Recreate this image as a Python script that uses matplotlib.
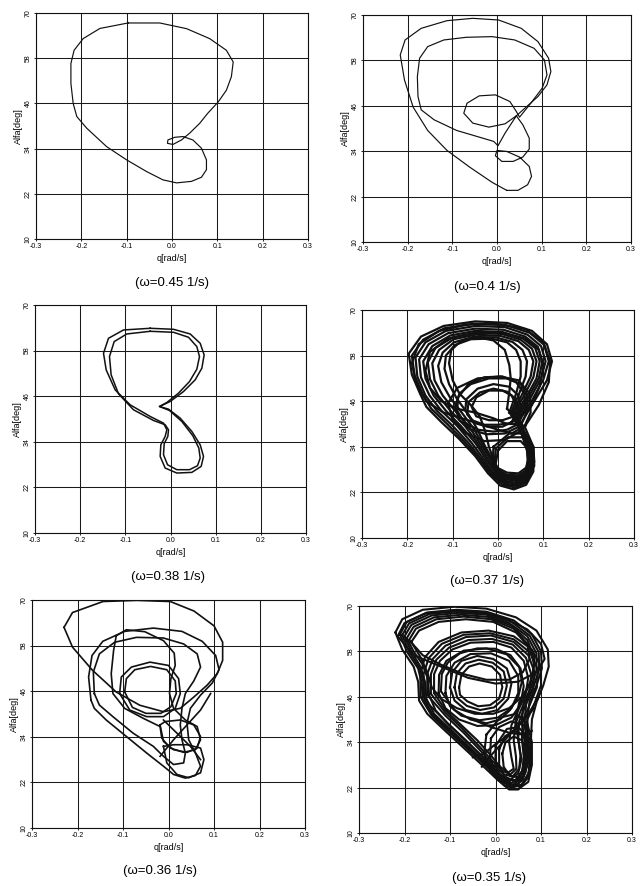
import matplotlib
matplotlib.use("Agg")
import matplotlib.pyplot as plt

plt.rcParams["font.family"] = ["Liberation Sans", "DejaVu Sans"]

Q_TICKS = [-0.3, -0.2, -0.1, 0.0, 0.1, 0.2, 0.3]
ALFA_TICKS = [10, 22, 34, 46, 58, 70]

# --- omega = 0.45 1/s : single closed orbit (q, alfa)
orbit_045 = [(-0.097, 67.35), (-0.027, 67.35), (0.032, 65.85), (0.083, 63.2), (0.12, 60.1),
             (0.135, 57.0), (0.131, 53.1), (0.12, 49.5), (0.102, 46.4), (0.079, 43.4),
             (0.061, 40.7), (0.039, 38.1), (0.021, 36.3), (0.002, 35.1), (-0.010, 35.4),
             (-0.009, 36.3), (0.006, 37.0), (0.024, 37.2), (0.046, 36.3), (0.065, 34.1),
             (0.076, 31.0), (0.076, 28.4), (0.065, 26.4), (0.043, 25.3), (0.010, 24.9),
             (-0.020, 25.7), (-0.056, 27.9), (-0.100, 31.0), (-0.144, 34.5), (-0.188, 39.4),
             (-0.210, 42.5), (-0.218, 46.0), (-0.223, 51.3), (-0.223, 56.6), (-0.216, 60.1),
             (-0.196, 63.2), (-0.159, 65.9), (-0.097, 67.35)]

# --- omega = 0.4 1/s : period-2 orbit
orbit_040_a = [(0.0217, 23.65), (-0.0108, 25.76), (-0.0614, 29.81), (-0.1119, 34.2), (-0.1552, 39.48),
               (-0.1877, 45.64), (-0.2072, 52.85), (-0.2166, 59.45), (-0.2058, 63.4), (-0.1697, 66.48),
               (-0.1119, 68.5), (-0.0542, 69.12), (0.0036, 68.68), (0.0542, 66.48), (0.0917, 62.96),
               (0.1155, 58.57), (0.1206, 55.05), (0.1119, 51.53), (0.0917, 48.45), (0.065, 45.64),
               (0.0433, 43.35), (0.0578, 40.98), (0.0722, 37.46), (0.0722, 34.56), (0.0578, 32.45),
               (0.0361, 31.3), (0.0108, 31.3), (-0.0036, 32.8), (0.0, 34.2), (0.0217, 33.94),
               (0.0505, 32.45), (0.0722, 29.98), (0.0773, 27.34), (0.0686, 25.14), (0.0469, 23.65),
               (0.0217, 23.65)]
orbit_040_b = [(0.0433, 43.35), (0.0181, 41.24), (-0.0181, 40.36), (-0.0542, 41.42), (-0.0744, 44.05),
               (-0.0671, 46.69), (-0.0397, 48.63), (-0.0036, 48.89), (0.0289, 47.13), (0.0433, 44.49),
               (0.0505, 43.0), (0.0758, 46.69), (0.1011, 50.65), (0.1119, 54.17), (0.1061, 58.13),
               (0.083, 61.2), (0.0397, 63.4), (-0.0108, 64.28), (-0.0686, 64.11), (-0.1191, 63.4),
               (-0.1552, 61.64), (-0.1733, 58.57), (-0.1783, 53.73), (-0.1769, 48.45), (-0.1697, 44.93),
               (-0.1408, 42.3), (-0.0903, 39.48), (-0.0397, 37.72), (-0.0072, 36.58), (0.0022, 35.44),
               (0.0181, 38.78), (0.0433, 43.35)]

# --- omega = 0.38 1/s : two nearly coincident loops
orbit_038_a = [(-0.045, 63.87), (0.0066, 63.61), (0.0435, 62.38), (0.0657, 59.93), (0.0745, 56.87),
               (0.0694, 53.36), (0.0546, 50.3), (0.0288, 47.23), (-0.0007, 44.61), (-0.0244, 43.29),
               (-0.0044, 42.59), (0.0214, 40.23), (0.0472, 36.73), (0.0657, 33.22), (0.0731, 30.16),
               (0.0679, 27.53), (0.0472, 25.95), (0.014, 25.78), (-0.0118, 27.09), (-0.0229, 30.16),
               (-0.0214, 33.22), (-0.0118, 35.41), (-0.0081, 37.16), (-0.0155, 38.91), (-0.045, 40.67),
               (-0.0893, 43.73), (-0.1225, 47.67), (-0.1424, 52.92), (-0.1483, 57.3), (-0.1373, 61.24),
               (-0.1041, 63.43), (-0.045, 63.87)]
orbit_038_b = [(-0.045, 63.08), (0.0066, 62.82), (0.0399, 61.51), (0.0583, 59.05), (0.0642, 56.43),
               (0.0583, 53.1), (0.0421, 49.86), (0.0177, 46.8), (-0.0081, 44.34), (-0.0244, 43.29),
               (-0.0022, 42.24), (0.0251, 39.35), (0.0494, 35.59), (0.0627, 32.35), (0.0657, 29.72),
               (0.0598, 27.71), (0.0421, 26.66), (0.014, 26.66), (-0.0066, 27.96), (-0.0155, 30.6),
               (-0.014, 33.49), (-0.0059, 35.41), (-0.0044, 37.16), (-0.0118, 38.48), (-0.0376, 39.61),
               (-0.0819, 42.42), (-0.1151, 46.62), (-0.1314, 51.61), (-0.1351, 56.43), (-0.1247, 60.37),
               (-0.0967, 62.38), (-0.045, 63.08)]

# --- omega = 0.37 1/s : chaotic, loops
loops_037 = [
    [(0.045, 41), (0.08, 46), (0.108, 51.5), (0.119, 56.5), (0.108, 61), (0.075, 64.5), (0.02, 66.6),
     (-0.05, 67), (-0.12, 65.8), (-0.17, 63), (-0.197, 58.5), (-0.19, 53), (-0.172, 48), (-0.158, 44.5),
     (-0.125, 40.5), (-0.085, 36), (-0.05, 31.5), (-0.022, 27), (0.005, 23.8), (0.035, 22.8),
     (0.062, 24), (0.078, 27.5), (0.078, 32), (0.065, 36.5), (0.045, 41)],
    [(0.042, 41.2), (0.075, 46.2), (0.1, 51.7), (0.112, 56.5), (0.102, 60.8), (0.07, 64), (0.018, 66),
     (-0.05, 66.4), (-0.118, 65.2), (-0.165, 62.2), (-0.19, 58), (-0.184, 52.8), (-0.166, 47.8),
     (-0.147, 44), (-0.112, 40), (-0.075, 35.5), (-0.042, 31), (-0.016, 26.8), (0.01, 24), (0.038, 23.3),
     (0.062, 24.6), (0.075, 28), (0.074, 32.3), (0.062, 36.8), (0.042, 41.2)],
    [(0.04, 41.5), (0.07, 46.5), (0.095, 52), (0.105, 56.5), (0.095, 60.5), (0.065, 63.5), (0.015, 65.5),
     (-0.05, 65.8), (-0.115, 64.5), (-0.16, 61.5), (-0.182, 57.5), (-0.178, 52.5), (-0.16, 47.5),
     (-0.135, 43.5), (-0.1, 39.5), (-0.065, 35), (-0.035, 30.5), (-0.01, 26.5), (0.015, 24.2),
     (0.04, 23.8), (0.062, 25.2), (0.072, 28.5), (0.07, 32.5), (0.058, 37), (0.04, 41.5)],
    [(0.038, 41.8), (0.066, 46.8), (0.09, 52), (0.098, 56.5), (0.088, 60.3), (0.06, 63), (0.012, 64.8),
     (-0.05, 65.1), (-0.11, 63.9), (-0.153, 61), (-0.174, 57), (-0.17, 52.3), (-0.151, 47.5),
     (-0.125, 43.5), (-0.09, 39.5), (-0.058, 35), (-0.03, 30.5), (-0.008, 26.8), (0.016, 24.8),
     (0.041, 24.5), (0.061, 26), (0.069, 29), (0.067, 32.8), (0.055, 37.2), (0.038, 41.8)],
    [(0.035, 42), (0.062, 47), (0.085, 52), (0.092, 56.5), (0.082, 60), (0.055, 62.5), (0.01, 64.2),
     (-0.05, 64.5), (-0.105, 63.3), (-0.145, 60.5), (-0.165, 56.5), (-0.16, 52), (-0.142, 47.5),
     (-0.115, 43.5), (-0.082, 39.5), (-0.05, 35), (-0.025, 30.5), (-0.005, 27.2), (0.018, 25.5),
     (0.042, 25.2), (0.06, 26.8), (0.066, 29.5), (0.064, 33), (0.052, 37.5), (0.035, 42)],
    [(0.032, 42.3), (0.057, 47.3), (0.078, 52.3), (0.085, 56.5), (0.075, 59.8), (0.05, 62.2),
     (0.008, 63.7), (-0.05, 64), (-0.1, 62.8), (-0.138, 60), (-0.155, 56.2), (-0.15, 51.8),
     (-0.132, 47.5), (-0.105, 43.5), (-0.073, 39.5), (-0.045, 35), (-0.022, 30.8), (-0.004, 27.8),
     (0.019, 26.3), (0.043, 26.1), (0.061, 27.6), (0.067, 30.5), (0.063, 34), (0.05, 38), (0.032, 42.3)],
    [(0.03, 42.5), (0.052, 47.5), (0.072, 52.5), (0.078, 56.5), (0.068, 59.5), (0.045, 61.8),
     (0.005, 63.2), (-0.05, 63.5), (-0.098, 62.3), (-0.13, 59.5), (-0.145, 56), (-0.14, 51.5),
     (-0.122, 47.5), (-0.095, 43.5), (-0.065, 39.5), (-0.04, 35), (-0.018, 31), (-0.002, 28.5),
     (0.02, 27.2), (0.045, 27), (0.062, 28.5), (0.068, 31.5), (0.062, 35), (0.048, 38.5), (0.03, 42.5)],
    [(0.028, 42.8), (0.046, 47.8), (0.061, 52.5), (0.064, 56.5), (0.054, 59.5), (0.032, 61.6),
     (-0.005, 62.8), (-0.055, 62.9), (-0.097, 61.5), (-0.122, 58.8), (-0.132, 55.3), (-0.125, 51),
     (-0.106, 47), (-0.08, 43), (-0.055, 39), (-0.035, 35), (-0.015, 30.8), (-0.001, 28), (0.02, 26.6),
     (0.046, 26.5), (0.065, 28), (0.072, 31), (0.067, 34.5), (0.052, 38.5), (0.028, 42.8)],
    [(0.025, 43), (0.04, 48), (0.05, 52.5), (0.05, 56.5), (0.04, 59.5), (0.02, 61.5), (-0.015, 62.5),
     (-0.06, 62.3), (-0.095, 60.8), (-0.115, 58), (-0.118, 54.5), (-0.108, 50.5), (-0.09, 46.5),
     (-0.065, 42.5), (-0.045, 38.5), (-0.03, 34.5), (-0.012, 30.5), (0.0, 27.5), (0.02, 26),
     (0.048, 26), (0.068, 27.5), (0.075, 30.5), (0.072, 34), (0.055, 38.5), (0.025, 43)],
    [(0.02, 44), (0.025, 48.5), (0.028, 52), (0.025, 55.5), (0.015, 59.5), (-0.01, 62), (-0.045, 62.8),
     (-0.08, 62), (-0.103, 59.5), (-0.108, 56), (-0.1, 51.5), (-0.085, 48), (-0.06, 45), (-0.04, 42),
     (-0.028, 38), (-0.02, 34), (-0.008, 30), (0.005, 26.8), (0.025, 25.5), (0.05, 25.5), (0.07, 27),
     (0.08, 30), (0.078, 34), (0.06, 39), (0.02, 44)],
    [(0.06, 39.5), (0.09, 45), (0.112, 51), (0.115, 56.5), (0.1, 61.5), (0.06, 65), (0.0, 66.3),
     (-0.07, 66.2), (-0.13, 64.5), (-0.175, 61), (-0.19, 56), (-0.18, 50.5), (-0.158, 46), (-0.12, 43),
     (-0.08, 41.5), (-0.04, 40), (0.0, 38.5), (0.03, 37.5), (0.06, 39.5)],
    [(0.05, 40), (0.075, 45), (0.092, 50), (0.1, 55), (0.09, 59.5), (0.06, 62.5), (0.01, 64), (-0.05, 64),
     (-0.11, 62.5), (-0.15, 59), (-0.16, 54), (-0.15, 49.5), (-0.125, 46), (-0.09, 44), (-0.05, 43),
     (-0.01, 41.5), (0.02, 40), (0.05, 40)],
    [(0.045, 40), (0.06, 44), (0.058, 48), (0.04, 51), (0.01, 52.5), (-0.03, 52.3), (-0.065, 50.5),
     (-0.088, 47), (-0.09, 43.5), (-0.075, 40.5), (-0.045, 38.5), (-0.01, 38), (0.02, 38.5), (0.045, 40)],
    [(0.05, 39.5), (0.065, 43.5), (0.064, 47.5), (0.05, 50.5), (0.02, 52), (-0.02, 52), (-0.06, 50.5),
     (-0.085, 48), (-0.095, 44.5), (-0.085, 41), (-0.06, 38.5), (-0.025, 37.3), (0.015, 37.5), (0.05, 39.5)],
    [(0.04, 41), (0.05, 44.5), (0.045, 47.5), (0.025, 49.8), (-0.01, 50.5), (-0.045, 49.3),
     (-0.07, 46.5), (-0.072, 43.5), (-0.058, 41), (-0.03, 39.8), (0.0, 39.8), (0.025, 40.2), (0.04, 41)],
    [(0.03, 40.5), (0.045, 43.5), (0.04, 46.5), (0.02, 48.5), (-0.01, 49.3), (-0.04, 48.3),
     (-0.065, 45.8), (-0.068, 42.5), (-0.05, 40.2), (-0.02, 39.2), (0.01, 39.3), (0.03, 40.5)],
    [(0.035, 42), (0.04, 45), (0.03, 47.5), (0.01, 48.8), (-0.02, 48.8), (-0.048, 47), (-0.058, 44.5),
     (-0.048, 42), (-0.02, 41), (0.01, 41), (0.035, 42)],
    [(0.055, 38.5), (0.072, 43), (0.07, 48), (0.045, 51.5), (0.005, 52.5), (-0.045, 52), (-0.09, 49.5),
     (-0.11, 45.5), (-0.1, 41), (-0.07, 37.5), (-0.03, 35.5), (0.015, 35.8), (0.055, 38.5)],
    [(0.0, 33), (-0.005, 29.5), (0.005, 26.5), (0.03, 25), (0.058, 26), (0.072, 29), (0.07, 33),
     (0.05, 35.5), (0.02, 35.5), (0.0, 33)],
    [(-0.005, 33.5), (-0.008, 29), (0.003, 26), (0.03, 24.4), (0.06, 25.5), (0.076, 29), (0.074, 33.5),
     (0.055, 36.5), (0.022, 36.5), (-0.005, 33.5)],
    [(-0.01, 34), (-0.012, 29), (0.0, 25.5), (0.03, 23.8), (0.062, 25), (0.08, 29), (0.078, 34),
     (0.058, 37.5), (0.025, 37.5), (-0.01, 34)],
]

# --- omega = 0.36 1/s : a handful of distinct loops
loops_036 = [
    [(-0.2296, 62.8), (-0.211, 66.7), (-0.144, 69.6), (-0.070, 69.9), (0.004, 69.6), (0.056, 67.1),
     (0.1, 63.2), (0.119, 58.9), (0.119, 54.1), (0.107, 50.6), (0.085, 47.6), (0.056, 44.5),
     (0.026, 41.5), (-0.011, 40.6), (-0.063, 42.3), (-0.115, 45.8), (-0.167, 51.5), (-0.211, 57.6),
     (-0.2296, 62.8)],
    [(-0.1704, 43.65), (-0.1756, 49.74), (-0.1681, 55.39), (-0.1444, 59.13), (-0.0963, 61.74),
     (-0.0333, 62.61), (0.0296, 61.74), (0.0741, 59.13), (0.1037, 55.39), (0.1111, 51.65),
     (0.0963, 48.17), (0.0704, 44.96), (0.0481, 41.48), (0.0407, 37.57), (0.0444, 33.22),
     (0.0593, 29.74), (0.0704, 26.26), (0.0593, 23.83), (0.037, 23.13), (0.0111, 24.09),
     (-0.0111, 26.26), (-0.0481, 29.74), (-0.0926, 34.09), (-0.137, 38.43), (-0.163, 41.48),
     (-0.1704, 43.65)],
    [(-0.163, 45.39), (-0.1652, 51.04), (-0.1519, 55.83), (-0.1185, 58.87), (-0.0704, 60.17),
     (-0.0111, 60.0), (0.0333, 58.43), (0.063, 55.83), (0.0704, 52.35), (0.0556, 48.7),
     (0.037, 45.39), (0.0296, 41.48), (0.0259, 37.13), (0.0296, 33.22), (0.037, 29.74),
     (0.0333, 27.13), (0.0111, 26.7), (-0.0111, 28.87), (-0.0333, 31.48), (-0.0778, 34.96),
     (-0.1222, 39.3), (-0.1519, 42.35), (-0.163, 45.39)],
    [(-0.1148, 60.61), (-0.0926, 62.17), (-0.0519, 61.65), (-0.0111, 59.3), (0.0126, 56.0),
     (0.0148, 52.78), (0.0052, 49.3), (0.0022, 45.39), (0.0111, 41.48), (0.037, 38.43),
     (0.063, 36.7), (0.0704, 33.22), (0.0593, 30.61), (0.0333, 29.91), (0.0037, 31.04),
     (-0.0148, 33.65), (-0.0185, 36.7), (-0.0556, 38.87), (-0.0963, 41.48), (-0.1222, 45.39),
     (-0.1259, 50.61), (-0.1207, 56.7), (-0.1148, 60.61)],
    [(-0.1074, 45.39), (-0.1037, 49.74), (-0.0815, 52.35), (-0.0407, 53.65), (0.0, 52.78),
     (0.0222, 49.3), (0.0259, 45.39), (0.0148, 41.48), (-0.0111, 39.3), (-0.0481, 39.3),
     (-0.0852, 41.04), (-0.1074, 45.39)],
    [(-0.0963, 45.83), (-0.0926, 49.3), (-0.0741, 51.65), (-0.0393, 52.52), (-0.0037, 51.65),
     (0.0148, 48.7), (0.017, 45.39), (0.0052, 41.91), (-0.017, 40.17), (-0.0496, 40.17),
     (-0.0793, 41.74), (-0.0963, 45.83)],
    [(-0.0185, 37.13), (-0.0074, 38.0), (0.0259, 38.43), (0.0556, 37.13), (0.0704, 34.09),
     (0.063, 31.04), (0.0407, 29.91), (0.0111, 30.61), (-0.0111, 32.78), (-0.0185, 37.13)],
    [(-0.0111, 31.48), (-0.0037, 27.13), (0.0185, 24.09), (0.0444, 23.22), (0.0704, 24.52),
     (0.0778, 28.0), (0.0704, 31.04), (0.0407, 31.91), (0.0111, 31.91), (-0.0111, 31.48)],
    [(-0.0185, 28.87), (0.0111, 33.22), (0.0407, 37.13), (0.0704, 41.04), (0.0926, 45.39)],
    [(-0.0111, 38.43), (0.0185, 34.96), (0.0481, 31.48), (0.0704, 28.0)],
]

# --- omega = 0.35 1/s : chaotic, dense
loops_035 = [
    [(-0.22, 63), (-0.205, 66.5), (-0.16, 69), (-0.09, 69.8), (-0.02, 69.3), (0.045, 67), (0.09, 63.5),
     (0.115, 58.5), (0.117, 54), (0.105, 49), (0.09, 44.5), (0.08, 40), (0.078, 35), (0.078, 29),
     (0.07, 24.5), (0.05, 21.5), (0.03, 21.5), (0.005, 24), (-0.03, 28), (-0.07, 32.5), (-0.115, 37.5),
     (-0.15, 41.5), (-0.168, 45), (-0.17, 50), (-0.18, 54), (-0.205, 58.5), (-0.22, 63)],
    [(-0.21, 62.5), (-0.195, 65.8), (-0.15, 68.3), (-0.085, 69), (-0.02, 68.5), (0.04, 66.2),
     (0.08, 62.5), (0.1, 58), (0.102, 53.5), (0.09, 49), (0.075, 45), (0.07, 40), (0.072, 34),
     (0.07, 28.5), (0.06, 24), (0.04, 22.2), (0.015, 23.5), (-0.015, 27), (-0.055, 31.5), (-0.1, 36.5),
     (-0.14, 41), (-0.16, 45), (-0.162, 49.5), (-0.17, 53.5), (-0.195, 58), (-0.21, 62.5)],
    [(-0.205, 62.3), (-0.19, 65.4), (-0.145, 67.9), (-0.082, 68.6), (-0.02, 68.1), (0.035, 65.8),
     (0.075, 62.2), (0.095, 57.8), (0.096, 53.2), (0.084, 48.8), (0.068, 44.8), (0.064, 39.8),
     (0.068, 34), (0.067, 28.8), (0.058, 24.5), (0.038, 22.7), (0.013, 24.2), (-0.018, 27.8),
     (-0.058, 32.3), (-0.1, 37), (-0.138, 41.2), (-0.156, 45.2), (-0.158, 49.8), (-0.168, 53.8),
     (-0.19, 58), (-0.205, 62.3)],
    [(-0.2, 62), (-0.185, 65), (-0.14, 67.5), (-0.08, 68.2), (-0.02, 67.7), (0.03, 65.5), (0.07, 62),
     (0.09, 57.5), (0.09, 53), (0.078, 48.5), (0.062, 44.5), (0.058, 39.5), (0.064, 34), (0.064, 29),
     (0.055, 25), (0.036, 23.2), (0.012, 24.8), (-0.02, 28.5), (-0.06, 33), (-0.1, 37.5), (-0.135, 41.5),
     (-0.152, 45.5), (-0.155, 50), (-0.165, 54), (-0.185, 58), (-0.2, 62)],
    [(-0.195, 61.5), (-0.18, 64.5), (-0.135, 67), (-0.075, 67.7), (-0.015, 67.1), (0.035, 64.8),
     (0.07, 61), (0.085, 56.5), (0.083, 52), (0.07, 48), (0.052, 44.5), (0.045, 40), (0.05, 34.5),
     (0.057, 29.5), (0.05, 25.8), (0.032, 24), (0.01, 25.5), (-0.022, 29.5), (-0.062, 34), (-0.102, 38.5),
     (-0.132, 42.5), (-0.146, 46.5), (-0.148, 50.5), (-0.16, 54.5), (-0.18, 58), (-0.195, 61.5)],
    [(-0.19, 61), (-0.175, 64), (-0.13, 66.5), (-0.07, 67.2), (-0.01, 66.5), (0.04, 64), (0.07, 60),
     (0.075, 56), (0.06, 52.5), (0.03, 50.5), (-0.02, 50.5), (-0.07, 52), (-0.12, 54.5), (-0.16, 57),
     (-0.19, 61)],
    [(-0.185, 60.5), (-0.168, 63.5), (-0.125, 65.8), (-0.065, 66.5), (-0.005, 65.8), (0.045, 63),
     (0.075, 59), (0.085, 54.5), (0.078, 50), (0.058, 46), (0.03, 43), (-0.005, 41.5), (-0.045, 41.5),
     (-0.085, 43), (-0.12, 45.5), (-0.14, 48.5), (-0.15, 52.5), (-0.165, 56.5), (-0.185, 60.5)],
    [(-0.215, 62), (-0.2, 65.5), (-0.155, 68), (-0.1, 68.8), (-0.04, 68.5), (0.02, 66.8), (0.07, 63.8),
     (0.1, 60), (0.108, 56), (0.09, 52.5), (0.05, 50), (0.0, 49.5), (-0.06, 51), (-0.12, 54),
     (-0.18, 57), (-0.215, 62)],
    [(-0.165, 46), (-0.165, 52), (-0.155, 56.5), (-0.125, 60.5), (-0.075, 63), (-0.015, 63.5),
     (0.04, 62), (0.08, 58.5), (0.1, 54), (0.1, 49), (0.085, 44), (0.07, 40), (0.066, 35), (0.07, 30),
     (0.066, 26), (0.05, 23), (0.03, 22.5), (0.01, 24.5), (-0.02, 28), (-0.06, 32.5), (-0.1, 37),
     (-0.14, 41.5), (-0.165, 46)],
    [(-0.158, 46.2), (-0.158, 52), (-0.147, 56.2), (-0.118, 60), (-0.07, 62.4), (-0.012, 62.8),
     (0.04, 61.2), (0.076, 57.7), (0.093, 53.2), (0.091, 48.5), (0.075, 43.8), (0.06, 39.8),
     (0.058, 35), (0.062, 30.2), (0.059, 26.5), (0.044, 24), (0.024, 24), (0.003, 26.2), (-0.028, 30),
     (-0.065, 34.5), (-0.105, 39), (-0.145, 43.8), (-0.158, 46.2)],
    [(-0.15, 46.5), (-0.15, 52), (-0.138, 56), (-0.11, 59.5), (-0.065, 61.8), (-0.01, 62.2),
     (0.04, 60.5), (0.072, 57), (0.086, 52.5), (0.082, 48), (0.065, 43.5), (0.052, 39.5), (0.05, 35),
     (0.055, 30.5), (0.052, 27), (0.038, 25), (0.018, 25.5), (-0.005, 28), (-0.035, 32), (-0.07, 36.5),
     (-0.11, 41), (-0.15, 46.5)],
    [(-0.142, 46.8), (-0.142, 52), (-0.13, 55.8), (-0.102, 59), (-0.06, 61), (-0.008, 61.3),
     (0.038, 59.8), (0.067, 56.3), (0.079, 51.8), (0.074, 47.2), (0.058, 43), (0.044, 39), (0.04, 34.5),
     (0.045, 30.2), (0.046, 27), (0.033, 25.5), (0.014, 26.5), (-0.008, 29.2), (-0.038, 33.2),
     (-0.072, 37.5), (-0.11, 41.8), (-0.142, 46.8)],
    [(-0.135, 47), (-0.135, 52), (-0.122, 55.5), (-0.095, 58.5), (-0.055, 60.3), (-0.005, 60.5),
     (0.035, 59), (0.062, 55.5), (0.072, 51), (0.066, 46.5), (0.05, 42.5), (0.035, 38.5), (0.03, 34),
     (0.035, 30), (0.04, 27), (0.028, 26), (0.01, 27.5), (-0.01, 30.5), (-0.04, 34.5), (-0.075, 38.5),
     (-0.11, 42.5), (-0.135, 47)],
    [(-0.125, 47), (-0.124, 51.8), (-0.108, 55.5), (-0.07, 58.2), (-0.02, 58.8), (0.025, 57.2),
     (0.055, 53.5), (0.062, 48.8), (0.055, 44), (0.035, 40.5), (0.0, 38.5), (-0.04, 38.3), (-0.08, 40),
     (-0.11, 43), (-0.125, 47)],
    [(-0.12, 47.5), (-0.118, 52), (-0.105, 55), (-0.078, 57.5), (-0.04, 58.8), (0.0, 58.7),
     (0.033, 57), (0.052, 54), (0.058, 50), (0.05, 46), (0.032, 42.5), (0.01, 40), (-0.02, 39),
     (-0.055, 40), (-0.09, 42.5), (-0.12, 47.5)],
    [(-0.11, 47), (-0.108, 51.5), (-0.09, 55), (-0.055, 57.3), (-0.01, 57.5), (0.03, 55.5),
     (0.05, 51.5), (0.05, 47), (0.035, 43), (0.005, 40.5), (-0.035, 39.8), (-0.075, 41), (-0.1, 43.5),
     (-0.11, 47)],
    [(-0.1, 48.5), (-0.095, 52.5), (-0.075, 55.5), (-0.04, 56.8), (-0.005, 56), (0.025, 53.5),
     (0.035, 49.5), (0.028, 45.5), (0.005, 42.5), (-0.03, 41.5), (-0.065, 42.5), (-0.09, 45), (-0.1, 48.5)],
    [(-0.09, 48.5), (-0.085, 52.2), (-0.066, 54.8), (-0.037, 55.8), (-0.006, 55), (0.018, 52.7),
     (0.025, 49), (0.018, 45.5), (-0.003, 43.2), (-0.034, 42.5), (-0.063, 43.6), (-0.084, 45.7),
     (-0.09, 48.5)],
    [(-0.08, 48.5), (-0.075, 51.8), (-0.058, 54), (-0.035, 54.8), (-0.008, 54), (0.01, 51.8),
     (0.015, 48.5), (0.008, 45.5), (-0.012, 43.8), (-0.038, 43.5), (-0.062, 44.8), (-0.078, 46.5),
     (-0.08, 48.5)],
    [(0.0, 33), (0.0, 28), (0.012, 24.5), (0.035, 22.2), (0.058, 22.8), (0.073, 26), (0.076, 31),
     (0.07, 35.5), (0.05, 38), (0.025, 37.5), (0.0, 33)],
    [(0.008, 32), (0.008, 28), (0.02, 25), (0.042, 23.6), (0.062, 25), (0.072, 28.5), (0.072, 32.5),
     (0.062, 36), (0.04, 37), (0.02, 35.5), (0.008, 32)],
    [(0.015, 31), (0.018, 27.5), (0.032, 25), (0.05, 24.8), (0.063, 27), (0.066, 31), (0.058, 34.5),
     (0.04, 35.5), (0.022, 34), (0.015, 31)],
    [(-0.01, 35), (-0.012, 30), (0.0, 25.5), (0.025, 22.8), (0.054, 22.3), (0.072, 24.8), (0.078, 29.5),
     (0.076, 34.5), (0.062, 38.5), (0.035, 39.5), (0.008, 38), (-0.01, 35)],
    [(-0.02, 36), (-0.025, 31), (-0.01, 26), (0.02, 22.5), (0.05, 21.6), (0.072, 23.5), (0.08, 28),
     (0.08, 34), (0.07, 39), (0.045, 41.5), (0.01, 40.5), (-0.02, 36)],
    [(0.095, 46), (0.075, 42), (0.05, 38.5), (0.02, 34.5), (-0.01, 30.5), (-0.03, 27.5)],
    [(0.085, 43), (0.06, 39.5), (0.03, 36), (0.0, 33.5), (-0.025, 31), (-0.05, 30)],
    [(-0.05, 40), (-0.01, 38), (0.03, 36.5), (0.06, 36), (0.08, 37)],
]

# panel layout: figure pixels (left, top, right, bottom) for a 641x886 canvas
W, H = 641.0, 886.0
panels = [
    ((36, 13, 308, 239), [orbit_045], 0.85, "(\u03c9=0.45 1/s)", (172, 283)),
    ((363, 15, 631, 242), [orbit_040_a, orbit_040_b], 0.85, "(\u03c9=0.4 1/s)", (487, 287)),
    ((35, 305, 306, 533), [orbit_038_a, orbit_038_b], 1.1, "(\u03c9=0.38 1/s)", (168, 577)),
    ((362, 310, 634, 538), loops_037, 1.6, "(\u03c9=0.37 1/s)", (487, 581)),
    ((32, 600, 305, 828), loops_036, 1.2, "(\u03c9=0.36 1/s)", (160, 871)),
    ((359, 606, 632, 833), loops_035, 1.5, "(\u03c9=0.35 1/s)", (489, 878)),
]


def draw_panel(fig, box, loops, lw, caption, cap_xy):
    l, t, r, b = box
    ax = fig.add_axes([l / W, 1 - b / H, (r - l) / W, (b - t) / H])
    for loop in loops:
        q = [p[0] for p in loop]
        a = [p[1] for p in loop]
        ax.plot(q, a, color="#111111", linewidth=lw, solid_joinstyle="round", zorder=3)

    ax.set_xlim(-0.3, 0.3)
    ax.set_ylim(10, 70)
    ax.set_xticks(Q_TICKS)
    ax.set_xticklabels(["%.1f" % v for v in Q_TICKS])
    ax.set_yticks(ALFA_TICKS)
    ax.set_yticklabels([str(v) for v in ALFA_TICKS], rotation=90, va="center")
    ax.tick_params(axis="both", length=1.5, width=0.6, pad=1.5, labelsize=5)
    ax.grid(True, color="#1a1a1a", linewidth=0.75)
    for s in ax.spines.values():
        s.set_linewidth(0.8)
        s.set_color("#111111")
    ax.set_xlabel("q[rad/s]", fontsize=6.5, labelpad=3)
    ax.set_ylabel("Alfa[deg]", fontsize=6.5, labelpad=1)
    fig.text(cap_xy[0] / W, 1 - cap_xy[1] / H, caption, fontsize=9.5,
             ha="center", va="center")
    return ax


fig = plt.figure(figsize=(6.41, 8.86), dpi=100)
for box, loops, lw, caption, cap_xy in panels:
    draw_panel(fig, box, loops, lw, caption, cap_xy)

fig.savefig("out.png", dpi=100)
